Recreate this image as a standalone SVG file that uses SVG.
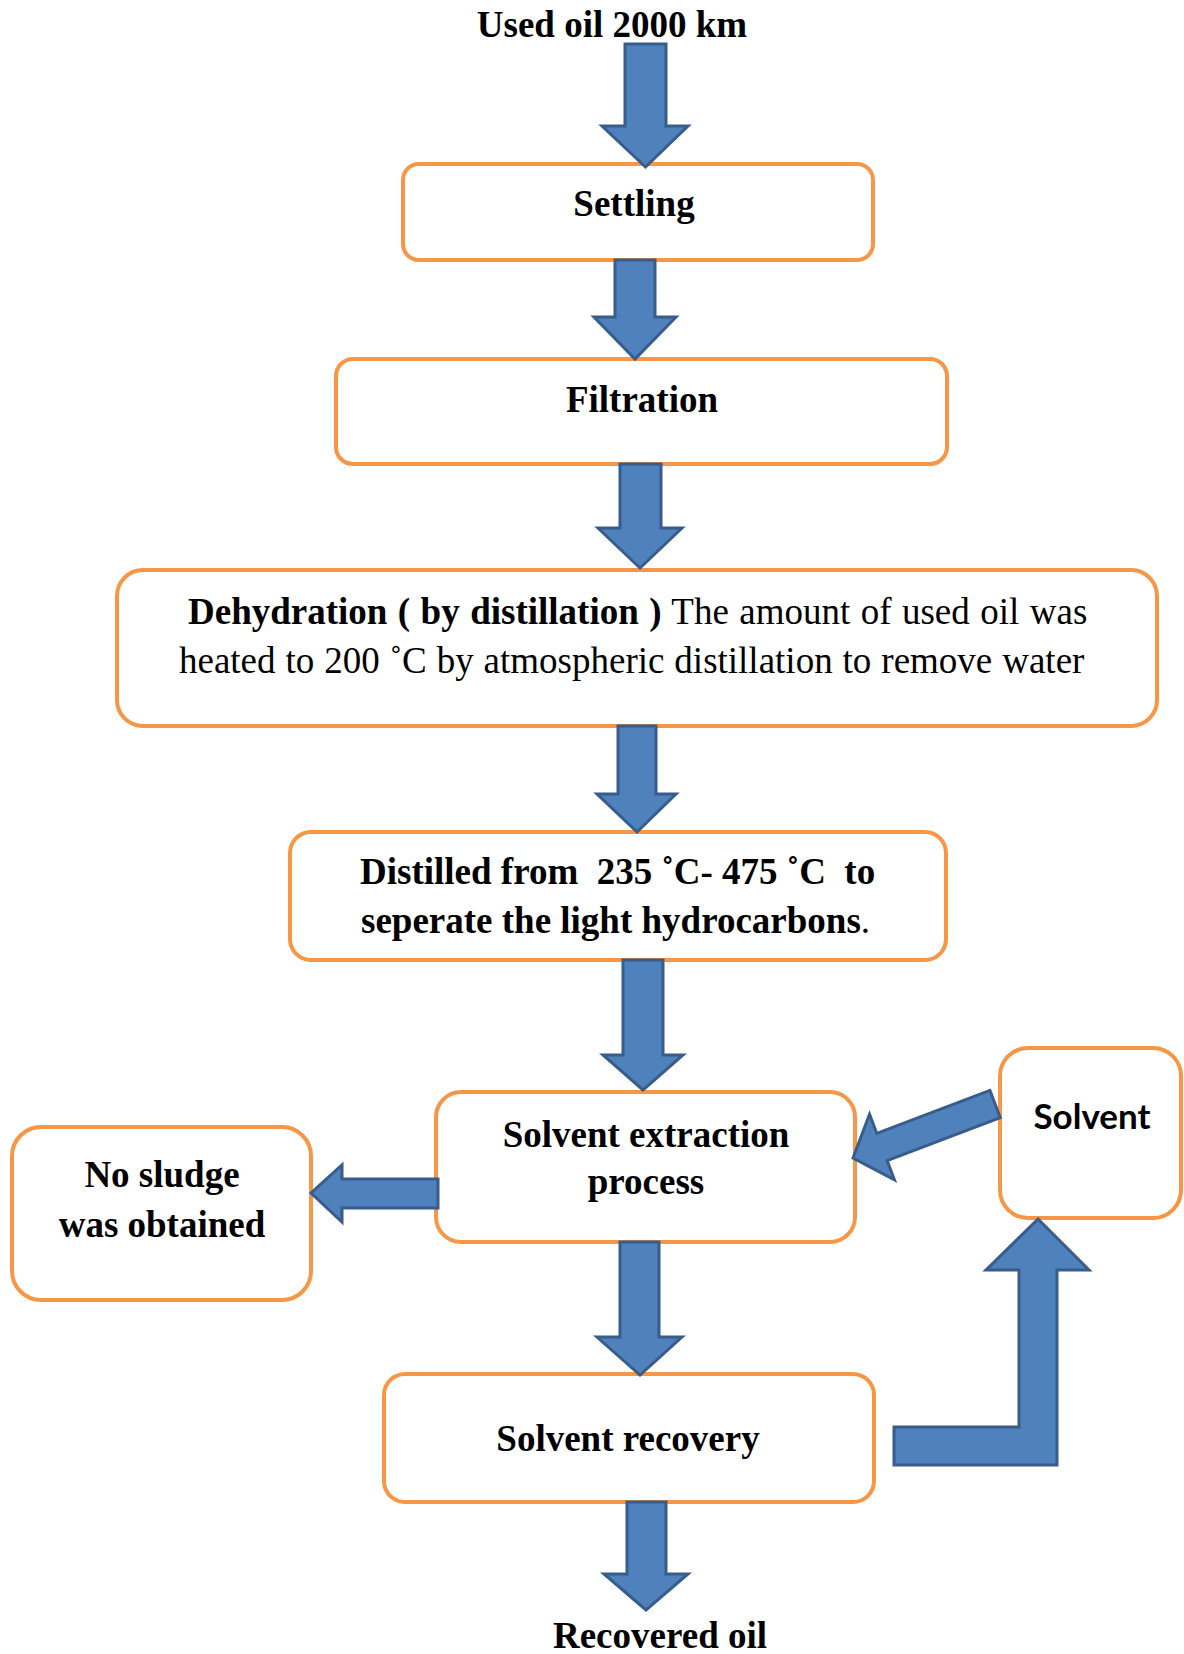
<svg xmlns="http://www.w3.org/2000/svg" width="1184" height="1654" viewBox="0 0 1184 1654">
<style>
.box{fill:#ffffff;stroke:#F79646;stroke-width:4}
.arr{fill:#4F81BD;stroke:#385D8A;stroke-width:3;stroke-linejoin:miter}
.t{font-family:"Liberation Serif","Times New Roman",serif;font-size:37px;fill:#000}
.b{font-weight:bold}
.c{text-anchor:middle}
.s{font-family:Lato,"Liberation Sans",sans-serif;font-weight:bold;font-size:35px;text-anchor:middle}
</style>
<rect width="1184" height="1654" fill="#ffffff"/>
<g id="nodes">
<g id="n-start"><text class="t b c" x="612" y="37">Used oil 2000 km</text></g>
<g id="n-settling"><rect class="box" x="403" y="164" width="470" height="96" rx="16"/><text class="t b c" x="634" y="216">Settling</text></g>
<g id="n-filtration"><rect class="box" x="336" y="359" width="611" height="105" rx="17"/><text class="t b c" x="642" y="412">Filtration</text></g>
<g id="n-dehydration"><rect class="box" x="117" y="570" width="1040" height="156" rx="26"/>
<text class="t" x="188" y="624" word-spacing="1.2"><tspan class="b">Dehydration ( by distillation )</tspan> The amount of used oil was</text>
<text class="t" x="179" y="673" word-spacing="0.7">heated to 200 ˚C by atmospheric distillation to remove water</text></g>
<g id="n-distilled"><rect class="box" x="290" y="832" width="656" height="128" rx="21"/>
<text class="t b" x="360" y="884" xml:space="preserve">Distilled from  235 ˚C- 475 ˚C  to</text>
<text class="t b" x="361" y="933">seperate the light hydrocarbons<tspan font-weight="normal">.</tspan></text></g>
<g id="n-extraction"><rect class="box" x="436" y="1092" width="419" height="150" rx="25"/>
<text class="t b c" x="646" y="1147">Solvent extraction</text><text class="t b c" x="646" y="1194">process</text></g>
<g id="n-nosludge"><rect class="box" x="12" y="1127" width="299" height="173" rx="29"/>
<text class="t b c" x="162" y="1187">No sludge</text><text class="t b c" x="162" y="1237">was obtained</text></g>
<g id="n-solvent"><rect class="box" x="1000" y="1048" width="181" height="170" rx="28"/>
<text class="s" x="1092" y="1129">Solvent</text></g>
<g id="n-recovery"><rect class="box" x="384" y="1374" width="490" height="128" rx="21"/>
<text class="t b c" x="628" y="1451">Solvent recovery</text></g>
<g id="n-end"><text class="t b c" x="660" y="1648">Recovered oil</text></g>
</g>
<g id="connectors">
<polygon class="arr" points="625,44 666,44 666,126 688,126 645.5,167 602,126 625,126"/>
<polygon class="arr" points="615,260 655,260 655,317 676,317 635,359 594,317 615,317"/>
<polygon class="arr" points="620,464 661,464 661,528 682,528 640,568 598,528 620,528"/>
<polygon class="arr" points="618,726 656,726 656,794 676,794 637,832 597,794 618,794"/>
<polygon class="arr" points="623,960 663,960 663,1055 683,1055 643,1090 603,1055 623,1055"/>
<polygon class="arr" points="620,1242 659,1242 659,1337 682,1337 640,1375 597,1337 620,1337"/>
<polygon class="arr" points="627,1502 666,1502 666,1574 688,1574 646,1610 604,1574 627,1574"/>
<polygon class="arr" points="438,1179 438,1208 342,1208 342,1222 311,1193 342,1165 342,1179"/>
<polygon class="arr" transform="translate(853,1158) rotate(-20.8)" points="0,0 31,-35 31,-14.5 152,-14.5 152,14.5 31,14.5 31,35"/>
<polygon class="arr" points="894,1427 1019,1427 1019,1270 986,1270 1038,1219 1089,1270 1057,1270 1057,1465 894,1465"/>
</g>
</svg>
